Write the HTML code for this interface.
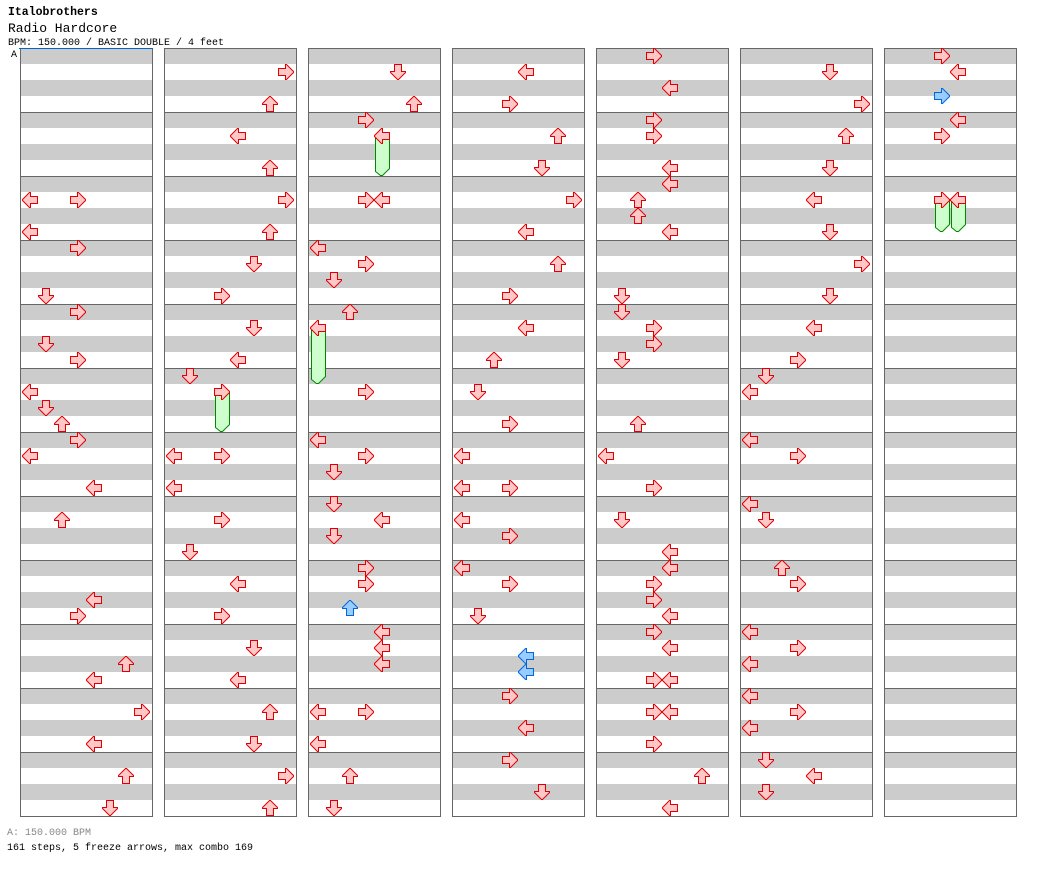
<!DOCTYPE html>
<html><head><meta charset="utf-8"><style>
html,body{margin:0;padding:0;background:#fff;width:1040px;height:876px;overflow:hidden}
svg{display:block}
text{font-family:"Liberation Mono","DejaVu Sans Mono",monospace}
</style></head><body>
<svg width="1040" height="876" viewBox="0 0 1040 876" xmlns="http://www.w3.org/2000/svg">
<defs>
<polygon id="pl" points="-7.5,-0.5 -7.5,0.5 -0.5,7.5 0.5,7.5 0.5,3.5 7.5,3.5 7.5,-3.5 0.5,-3.5 0.5,-7.5 -0.5,-7.5"/>
<g id="L" fill="#ffc8c8" stroke="#e00000" stroke-width="1"><use href="#pl"/></g>
<g id="D" fill="#ffc8c8" stroke="#e00000" stroke-width="1"><use href="#pl" transform="rotate(-90)"/></g>
<g id="U" fill="#ffc8c8" stroke="#e00000" stroke-width="1"><use href="#pl" transform="rotate(90)"/></g>
<g id="R" fill="#ffc8c8" stroke="#e00000" stroke-width="1"><use href="#pl" transform="rotate(180)"/></g>
<g id="bL" fill="#99ccff" stroke="#0066dd" stroke-width="1"><use href="#pl"/></g>
<g id="bU" fill="#99ccff" stroke="#0066dd" stroke-width="1"><use href="#pl" transform="rotate(90)"/></g>
<g id="bR" fill="#99ccff" stroke="#0066dd" stroke-width="1"><use href="#pl" transform="rotate(180)"/></g>
<g id="col">
<rect x="20" y="48" width="133" height="769" fill="#fff"/>
<g fill="#cccccc" shape-rendering="crispEdges">
<rect x="21" y="48" width="131" height="16"/><rect x="21" y="80" width="131" height="16"/>
<rect x="21" y="112" width="131" height="16"/><rect x="21" y="144" width="131" height="16"/>
<rect x="21" y="176" width="131" height="16"/><rect x="21" y="208" width="131" height="16"/>
<rect x="21" y="240" width="131" height="16"/><rect x="21" y="272" width="131" height="16"/>
<rect x="21" y="304" width="131" height="16"/><rect x="21" y="336" width="131" height="16"/>
<rect x="21" y="368" width="131" height="16"/><rect x="21" y="400" width="131" height="16"/>
<rect x="21" y="432" width="131" height="16"/><rect x="21" y="464" width="131" height="16"/>
<rect x="21" y="496" width="131" height="16"/><rect x="21" y="528" width="131" height="16"/>
<rect x="21" y="560" width="131" height="16"/><rect x="21" y="592" width="131" height="16"/>
<rect x="21" y="624" width="131" height="16"/><rect x="21" y="656" width="131" height="16"/>
<rect x="21" y="688" width="131" height="16"/><rect x="21" y="720" width="131" height="16"/>
<rect x="21" y="752" width="131" height="16"/><rect x="21" y="784" width="131" height="16"/>
</g>
<g stroke="#666" stroke-width="1" shape-rendering="crispEdges" fill="none">
<path d="M20 112.5H153M20 176.5H153M20 240.5H153M20 304.5H153M20 368.5H153M20 432.5H153M20 496.5H153M20 560.5H153M20 624.5H153M20 688.5H153M20 752.5H153"/>
<rect x="20.5" y="48.5" width="132" height="768"/>
</g>
</g>
</defs>

<!-- columns -->
<use href="#col" x="0"/>
<use href="#col" x="144"/>
<use href="#col" x="288"/>
<use href="#col" x="432"/>
<use href="#col" x="576"/>
<use href="#col" x="720"/>
<use href="#col" x="864"/>

<line x1="19" y1="48.5" x2="153" y2="48.5" stroke="#0066cc" stroke-width="1" shape-rendering="crispEdges"/>

<!-- freeze bodies -->
<g fill="#ccffcc" stroke="#008800" stroke-width="1">
<polygon points="215.5,392 229.5,392 229.5,424.5 222.5,431.5 220.5,431.5 215.5,427.5"/>
<polygon points="375.5,136 389.5,136 389.5,168.5 382.5,175.5 380.5,175.5 375.5,171.5"/>
<polygon points="311.5,328 325.5,328 325.5,376.5 318.5,383.5 316.5,383.5 311.5,379.5"/>
<polygon points="935.5,200 949.5,200 949.5,224.5 942.5,231.5 940.5,231.5 935.5,227.5"/>
<polygon points="951.5,200 965.5,200 965.5,224.5 958.5,231.5 956.5,231.5 951.5,227.5"/>
</g>

<!-- column 1 -->
<use href="#L" x="30" y="200"/><use href="#R" x="78" y="200"/>
<use href="#L" x="30" y="232"/>
<use href="#R" x="78" y="248"/>
<use href="#D" x="46" y="296"/>
<use href="#R" x="78" y="312"/>
<use href="#D" x="46" y="344"/>
<use href="#R" x="78" y="360"/>
<use href="#L" x="30" y="392"/>
<use href="#D" x="46" y="408"/>
<use href="#U" x="62" y="424"/>
<use href="#R" x="78" y="440"/>
<use href="#L" x="30" y="456"/>
<use href="#L" x="94" y="488"/>
<use href="#U" x="62" y="520"/>
<use href="#L" x="94" y="600"/>
<use href="#R" x="78" y="616"/>
<use href="#U" x="126" y="664"/>
<use href="#L" x="94" y="680"/>
<use href="#R" x="142" y="712"/>
<use href="#L" x="94" y="744"/>
<use href="#U" x="126" y="776"/>
<use href="#D" x="110" y="808"/>

<!-- column 2 -->
<use href="#R" x="286" y="72"/>
<use href="#U" x="270" y="104"/>
<use href="#L" x="238" y="136"/>
<use href="#U" x="270" y="168"/>
<use href="#R" x="286" y="200"/>
<use href="#U" x="270" y="232"/>
<use href="#D" x="254" y="264"/>
<use href="#R" x="222" y="296"/>
<use href="#D" x="254" y="328"/>
<use href="#L" x="238" y="360"/>
<use href="#D" x="190" y="376"/>
<use href="#R" x="222" y="392"/>
<use href="#L" x="174" y="456"/><use href="#R" x="222" y="456"/>
<use href="#L" x="174" y="488"/>
<use href="#R" x="222" y="520"/>
<use href="#D" x="190" y="552"/>
<use href="#L" x="238" y="584"/>
<use href="#R" x="222" y="616"/>
<use href="#D" x="254" y="648"/>
<use href="#L" x="238" y="680"/>
<use href="#U" x="270" y="712"/>
<use href="#D" x="254" y="744"/>
<use href="#R" x="286" y="776"/>
<use href="#U" x="270" y="808"/>

<!-- column 3 -->
<use href="#D" x="398" y="72"/>
<use href="#U" x="414" y="104"/>
<use href="#R" x="366" y="120"/>
<use href="#L" x="382" y="136"/>
<use href="#R" x="366" y="200"/><use href="#L" x="382" y="200"/>
<use href="#L" x="318" y="248"/>
<use href="#R" x="366" y="264"/>
<use href="#D" x="334" y="280"/>
<use href="#U" x="350" y="312"/>
<use href="#L" x="318" y="328"/>
<use href="#R" x="366" y="392"/>
<use href="#L" x="318" y="440"/>
<use href="#R" x="366" y="456"/>
<use href="#D" x="334" y="472"/>
<use href="#D" x="334" y="504"/>
<use href="#L" x="382" y="520"/>
<use href="#D" x="334" y="536"/>
<use href="#R" x="366" y="568"/>
<use href="#R" x="366" y="584"/>
<use href="#bU" x="350" y="608"/>
<use href="#L" x="382" y="632"/>
<use href="#L" x="382" y="648"/>
<use href="#L" x="382" y="664"/>
<use href="#L" x="318" y="712"/><use href="#R" x="366" y="712"/>
<use href="#L" x="318" y="744"/>
<use href="#U" x="350" y="776"/>
<use href="#D" x="334" y="808"/>

<!-- column 4 -->
<use href="#L" x="526" y="72"/>
<use href="#R" x="510" y="104"/>
<use href="#U" x="558" y="136"/>
<use href="#D" x="542" y="168"/>
<use href="#R" x="574" y="200"/>
<use href="#L" x="526" y="232"/>
<use href="#U" x="558" y="264"/>
<use href="#R" x="510" y="296"/>
<use href="#L" x="526" y="328"/>
<use href="#U" x="494" y="360"/>
<use href="#D" x="478" y="392"/>
<use href="#R" x="510" y="424"/>
<use href="#L" x="462" y="456"/>
<use href="#L" x="462" y="488"/><use href="#R" x="510" y="488"/>
<use href="#L" x="462" y="520"/>
<use href="#R" x="510" y="536"/>
<use href="#L" x="462" y="568"/>
<use href="#R" x="510" y="584"/>
<use href="#D" x="478" y="616"/>
<use href="#bL" x="526" y="656"/>
<use href="#bL" x="526" y="672"/>
<use href="#R" x="510" y="696"/>
<use href="#L" x="526" y="728"/>
<use href="#R" x="510" y="760"/>
<use href="#D" x="542" y="792"/>

<!-- column 5 -->
<use href="#R" x="654" y="56"/>
<use href="#L" x="670" y="88"/>
<use href="#R" x="654" y="120"/>
<use href="#R" x="654" y="136"/>
<use href="#L" x="670" y="168"/>
<use href="#L" x="670" y="184"/>
<use href="#U" x="638" y="200"/>
<use href="#U" x="638" y="216"/>
<use href="#L" x="670" y="232"/>
<use href="#D" x="622" y="296"/>
<use href="#D" x="622" y="312"/>
<use href="#R" x="654" y="328"/>
<use href="#R" x="654" y="344"/>
<use href="#D" x="622" y="360"/>
<use href="#U" x="638" y="424"/>
<use href="#L" x="606" y="456"/>
<use href="#R" x="654" y="488"/>
<use href="#D" x="622" y="520"/>
<use href="#L" x="670" y="552"/>
<use href="#L" x="670" y="568"/>
<use href="#R" x="654" y="584"/>
<use href="#R" x="654" y="600"/>
<use href="#L" x="670" y="616"/>
<use href="#R" x="654" y="632"/>
<use href="#L" x="670" y="648"/>
<use href="#R" x="654" y="680"/><use href="#L" x="670" y="680"/>
<use href="#R" x="654" y="712"/><use href="#L" x="670" y="712"/>
<use href="#R" x="654" y="744"/>
<use href="#U" x="702" y="776"/>
<use href="#L" x="670" y="808"/>

<!-- column 6 -->
<use href="#D" x="830" y="72"/>
<use href="#R" x="862" y="104"/>
<use href="#U" x="846" y="136"/>
<use href="#D" x="830" y="168"/>
<use href="#L" x="814" y="200"/>
<use href="#D" x="830" y="232"/>
<use href="#R" x="862" y="264"/>
<use href="#D" x="830" y="296"/>
<use href="#L" x="814" y="328"/>
<use href="#R" x="798" y="360"/>
<use href="#D" x="766" y="376"/>
<use href="#L" x="750" y="392"/>
<use href="#L" x="750" y="440"/>
<use href="#R" x="798" y="456"/>
<use href="#L" x="750" y="504"/>
<use href="#D" x="766" y="520"/>
<use href="#U" x="782" y="568"/>
<use href="#R" x="798" y="584"/>
<use href="#L" x="750" y="632"/>
<use href="#R" x="798" y="648"/>
<use href="#L" x="750" y="664"/>
<use href="#L" x="750" y="696"/>
<use href="#R" x="798" y="712"/>
<use href="#L" x="750" y="728"/>
<use href="#D" x="766" y="760"/>
<use href="#L" x="814" y="776"/>
<use href="#D" x="766" y="792"/>

<!-- column 7 -->
<use href="#R" x="942" y="56"/>
<use href="#L" x="958" y="72"/>
<use href="#bR" x="942" y="96"/>
<use href="#L" x="958" y="120"/>
<use href="#R" x="942" y="136"/>
<use href="#R" x="942" y="200"/><use href="#L" x="958" y="200"/>

<!-- text -->
<text x="8" y="15" font-size="11.5" font-weight="bold" fill="#000">Italobrothers</text>
<text x="8" y="32" font-size="13" fill="#000">Radio Hardcore</text>
<text x="8" y="45" font-size="10" fill="#000">BPM: 150.000 / BASIC DOUBLE / 4 feet</text>
<text x="11" y="57" font-size="10" fill="#000">A</text>
<text x="7" y="835" font-size="10" fill="#888">A: 150.000 BPM</text>
<text x="7" y="850" font-size="10" fill="#000">161 steps, 5 freeze arrows, max combo 169</text>
</svg>
</body></html>
